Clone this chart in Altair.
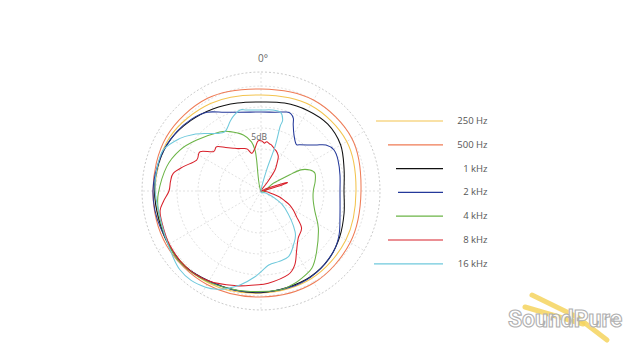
import altair as alt
import numpy as np
import pandas as pd

# ---------------- data: angle in degrees (clockwise, 0 = top), radius in plot units ----------------
series_names = ["250 Hz", "500 Hz", "1 kHz", "2 kHz", "4 kHz", "8 kHz", "16 kHz"]
series_colors = ["#f3c44f", "#ef7b55", "#111111", "#24399a", "#6bb446", "#d8202a", "#6fc9dc"]

ang_250 = [0, 30, 60, 90, 120, 150, 180, 210, 240, 270, 300, 330]
r_250 = [96, 99, 99, 95, 98, 101, 102, 106, 107, 106, 106, 101]

ang_500 = [0, 30, 60, 90, 120, 150, 180, 210, 240, 270, 300, 330]
r_500 = [102, 105, 105, 100, 103, 106, 106, 108, 109, 108, 109, 107]

ang_1k = [0, 15, 30, 45, 60, 75, 90, 105, 120, 135, 150, 165, 180, 195, 210, 225, 240, 255, 270, 285, 300, 315, 330, 345]
r_1k = [89, 91, 93, 94.5, 92, 86, 83, 86, 91, 96, 99, 100, 101.7, 102.5, 104, 107, 107, 106, 106.5, 106, 104, 99.5, 95, 91]

ang_2k = [0, 10, 18, 21, 24, 26, 30.5, 36.7, 40, 49.6, 54.7, 60.7, 68, 78.5, 90, 107, 119.4, 130, 145, 160, 180,
          200, 225, 250, 270, 290, 305, 316, 325.5, 335, 345]
r_2k = [79, 80, 83, 83, 79.5, 73.5, 65, 58.6, 60.3, 71, 79.6, 83.7, 83, 80.6, 79, 82.6, 89.6, 94.4, 98.5, 100.5, 101,
        103, 107, 107, 108, 106, 103, 100, 95.5, 86.8, 81.5]

ang_4k = [0, 58, 60.5, 62, 66.8, 71.8, 80, 90, 100, 111, 123, 137.5, 146.7, 156.7, 162, 169.5, 186, 200, 215, 230,
          245, 259.5, 268.7, 284.5, 296.8, 308.4, 325, 332.4, 342.5, 349, 351.7, 352]
r_4k = [0, 14.5, 32.5, 45, 53.3, 56.8, 55, 52.3, 53, 57.8, 68.4, 82.3, 92.5, 97, 98.9, 100.7, 101, 103, 106, 108,
        106, 104.4, 102.7, 97.4, 90.8, 82, 72, 67, 58.7, 50, 41, 32]

ang_8k = [0, 66, 71, 72.5, 74, 78, 90, 100, 104, 108, 112, 116, 121, 126, 132.5, 141.7, 149.5, 155.3, 162, 175.5,
          183.7, 195, 210, 225, 240, 252, 259, 264, 270, 276, 281.4, 287.4, 295.7, 302.8, 309.5, 315, 321, 327,
          332, 337.5, 342, 346, 350, 352, 355, 357, 1, 4, 6.6, 10, 13, 18, 21.8, 26.8, 30, 33.7, 36]
r_8k = [0, 6, 24, 27.6, 22, 6, 3, 8, 13, 20, 25, 32, 38, 44, 55, 60, 70, 81, 88, 92.6,
        94.2, 98, 104, 107, 106, 104, 102.8, 98, 92, 91, 89.5, 81.4, 71.4, 72.6, 61.8, 62.7, 56, 51,
        48, 46, 44, 38.8, 41, 43, 48, 50.4, 50, 48, 49.6, 48, 47.2, 44, 42.3, 38.4, 32, 25, 12]

ang_16k = [0, 15, 17.5, 16.5, 17, 14, 8, 0, 350, 345.5, 340, 336, 328.7, 322, 316.7, 310, 303, 292.8, 281.4, 270.5,
           259.5, 244.5, 233, 226, 218, 210, 204, 199, 192.6, 184, 174, 166, 157, 149, 140, 125.8, 117.5, 112]
r_16k = [0, 22, 46.5, 67, 74, 81, 81.8, 81, 82.2, 83.7, 80, 76, 69.4, 73, 79, 88, 96.6, 106, 106.4, 106,
         104.4, 106, 110, 113, 113.5, 111, 107.5, 103, 96.3, 86, 74.4, 72.8, 71, 63, 53, 29.6, 15.8, 5]

ring_radii = [21, 42, 63, 84, 105]
outer_radius = 119
spoke_angles = [0, 30, 60, 90, 120, 150, 180, 210, 240, 270, 300, 330]

# ---------------- tables ----------------
all_angles = [ang_250, ang_500, ang_1k, ang_2k, ang_4k, ang_8k, ang_16k]
all_radii = [r_250, r_500, r_1k, r_2k, r_4k, r_8k, r_16k]
rows = []
for name, angs, rads in zip(series_names, all_angles, all_radii):
    for i, (a, r) in enumerate(zip(angs, rads)):
        rows.append({"series": name, "idx": i, "angle": a, "r": r})
curves = pd.DataFrame(rows)

ring_steps = np.arange(0, 360, 3)
ring_rows = []
for k, rr in enumerate(ring_radii + [outer_radius]):
    for i, a in enumerate(ring_steps):
        ring_rows.append({"ring": k, "idx": i, "angle": float(a), "r": rr, "outer": rr == outer_radius})
rings = pd.DataFrame(ring_rows)

spokes = pd.DataFrame({"angle": spoke_angles, "r": outer_radius})

legend_df = pd.DataFrame({
    "series": series_names,
    "i": list(range(len(series_names))),
    "x_start": [115, 127, 135, 137, 135, 127, 113],
})

# ---------------- layout constants (plot units = px, center of polar at 0,0) ----------------
W, H = 624, 345
CX, CY = 253, 183
xs = alt.Scale(domain=[-CX, W - CX], nice=False, zero=False)
ys = alt.Scale(domain=[CY - H, CY], nice=False, zero=False)
X = lambda f: alt.X(f, type="quantitative", scale=xs, axis=None)
Y = lambda f: alt.Y(f, type="quantitative", scale=ys, axis=None)
polar = dict(px="datum.r * sin(datum.angle * PI / 180)", py="datum.r * cos(datum.angle * PI / 180)")
color = alt.Color("series:N", scale=alt.Scale(domain=series_names, range=series_colors), legend=None)

ring_layer = alt.Chart(rings).transform_calculate(**polar).mark_line(
    interpolate="linear-closed", strokeDash=[2, 2], strokeWidth=0.8
).encode(
    x=X("px"), y=Y("py"), detail="ring:N", order="idx:Q",
    color=alt.condition("datum.outer", alt.value("#bdbdbd"), alt.value("#d9d9d9")),
)

spoke_layer = alt.Chart(spokes).transform_calculate(**polar).mark_rule(
    strokeDash=[2, 2], strokeWidth=0.8, color="#d9d9d9"
).encode(x=alt.X("zx:Q", scale=xs, axis=None), y=alt.Y("zy:Q", scale=ys, axis=None), x2="px:Q", y2="py:Q").transform_calculate(zx="0", zy="0")

curve_layer = alt.Chart(curves).transform_calculate(**polar).mark_line(
    interpolate="cardinal-closed", strokeWidth=1.05
).encode(x=X("px"), y=Y("py"), color=color, order="idx:Q")

labels = pd.DataFrame({"text": ["0°", "5dB"], "angle": [0.9, -2], "r": [132, 54], "size": [10, 8.5]})
label_layer = alt.Chart(labels).transform_calculate(**polar).mark_text(
    color="#666666", font="Open Sans", align="center", baseline="middle"
).encode(x=X("px"), y=Y("py"), text="text:N", size=alt.Size("size:Q", scale=None, legend=None))

leg_line = alt.Chart(legend_df).transform_calculate(
    ly="70 - datum.i * 23.8", lx2="182"
).mark_rule(strokeWidth=1.2).encode(
    x=alt.X("x_start:Q", scale=xs, axis=None), x2="lx2:Q", y=alt.Y("ly:Q", scale=ys, axis=None), color=color
)
leg_text = alt.Chart(legend_df).transform_calculate(
    ly="70 - datum.i * 23.8", lx="226.5"
).mark_text(align="right", baseline="middle", fontSize=9.5, color="#555555", font="Open Sans").encode(
    x=alt.X("lx:Q", scale=xs, axis=None), y=alt.Y("ly:Q", scale=ys, axis=None), text="series:N"
)

# watermark (decoration)
fork = pd.DataFrame({"x": [271, 264, 316], "y": [-104, -116, -126], "x2": [316, 322, 346], "y2": [-126, -133, -149]})
fork_layer = alt.Chart(fork).mark_rule(strokeWidth=5, color="#f4d35e", opacity=0.85, strokeCap="round").encode(
    x=alt.X("x:Q", scale=xs, axis=None), y=alt.Y("y:Q", scale=ys, axis=None), x2="x2:Q", y2="y2:Q"
)
wm = pd.DataFrame({"text": ["SoundPure"], "x": [304], "y": [-129]})
wm_layer = alt.Chart(wm).mark_text(
    font="Roboto", fontSize=23, fontWeight="bold", fill="#ffffff", fillOpacity=0.9, stroke="#b0b0b0",
    strokeWidth=1.1, align="center", baseline="middle"
).encode(x=alt.X("x:Q", scale=xs, axis=None), y=alt.Y("y:Q", scale=ys, axis=None), text="text:N")

chart = alt.layer(
    ring_layer, spoke_layer, curve_layer, label_layer, leg_line, leg_text, fork_layer, wm_layer
).properties(width=W, height=H, padding=0, autosize="none").configure_view(strokeWidth=0)

chart.save("out.html", embed_options={"renderer": "svg", "actions": False})
